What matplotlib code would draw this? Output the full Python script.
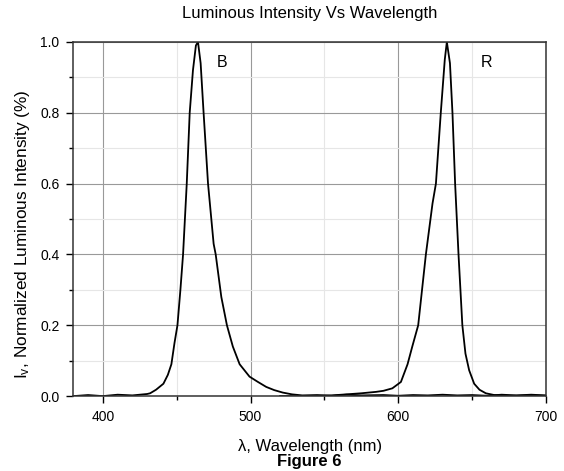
import matplotlib.pyplot as plt
from matplotlib.ticker import MultipleLocator

plt.rcParams['font.family'] = ['Liberation Sans', 'DejaVu Sans']
plt.rcParams['mathtext.default'] = 'regular'

# blue LED curve (wavelength nm, normalized intensity)
b_wl = [380, 390, 400, 410, 420, 425, 430, 432, 436, 441, 444, 446.4, 448.5, 450.5, 452.5,
        454.3, 456.8, 458.8, 461, 463, 464.4, 466.2, 468.2, 471.2, 475, 476.4, 480.2, 484,
        488, 492.6, 499.3, 505, 510.6, 516, 521.8, 528, 535, 545, 555, 565, 575, 590, 600,
        610, 620, 630, 640, 650, 660, 670, 680, 690, 700]
b_val = [0.0, 0.003, 0.0, 0.004, 0.002, 0.004, 0.006, 0.008, 0.018, 0.035, 0.06, 0.09, 0.15,
         0.20, 0.30, 0.40, 0.60, 0.80, 0.92, 0.99, 1.0, 0.94, 0.80, 0.60, 0.43, 0.40, 0.28,
         0.20, 0.14, 0.09, 0.055, 0.04, 0.026, 0.017, 0.01, 0.005, 0.002, 0.003, 0.001,
         0.004, 0.002, 0.003, 0.001, 0.003, 0.002, 0.004, 0.002, 0.003, 0.001, 0.004, 0.002,
         0.004, 0.002]

# red LED curve
r_wl = [520, 540, 555, 565, 575, 585, 590, 596, 601.8, 606.3, 609.5, 613.5, 618.7, 623.2,
        625.5, 628.8, 631.5, 632.9, 635, 636.7, 638.5, 640.8, 643.4, 645.5, 648, 651.4, 655,
        659.3, 665, 675, 690, 700]
r_val = [0.0, 0.0, 0.002, 0.005, 0.008, 0.012, 0.015, 0.022, 0.04, 0.09, 0.14, 0.20, 0.40,
         0.544, 0.60, 0.80, 0.95, 1.0, 0.94, 0.80, 0.60, 0.40, 0.20, 0.12, 0.073, 0.035,
         0.018, 0.008, 0.003, 0.001, 0.002, 0.001]

fig = plt.figure(figsize=(5.64, 4.71), dpi=100)
ax = fig.add_axes([0.130, 0.159, 0.838, 0.752])

ax.plot(b_wl, b_val, color='black', lw=1.3)
ax.plot(r_wl, r_val, color='black', lw=1.3)

ax.set_xlim(380, 700)
ax.set_ylim(0, 1.0)
ax.xaxis.set_major_locator(MultipleLocator(100))
ax.xaxis.set_minor_locator(MultipleLocator(50))
ax.yaxis.set_major_locator(MultipleLocator(0.2))
ax.yaxis.set_minor_locator(MultipleLocator(0.1))
ax.yaxis.set_major_formatter(plt.FormatStrFormatter('%.1f'))

ax.grid(True, which='major', color='#999999', lw=0.8)
ax.grid(True, which='minor', color='#e6e6e6', lw=0.8)
ax.set_axisbelow(True)

ax.tick_params(which='major', direction='out', length=5, width=1, labelsize=10, pad=5)
ax.tick_params(which='minor', direction='out', length=3, width=1)
for s in ax.spines.values():
    s.set_linewidth(1.1)
    s.set_color('#333333')

ax.text(481, 0.943, 'B', fontsize=11.5, ha='center', va='center')
ax.text(660, 0.943, 'R', fontsize=11.5, ha='center', va='center')

ax.set_title('Luminous Intensity Vs Wavelength', fontsize=12, pad=17)
ax.set_ylabel(r'I$_v$, Normalized Luminous Intensity (%)', fontsize=12.4)
ax.yaxis.set_label_coords(-0.088, 0.458)
ax.set_xlabel('λ, Wavelength (nm)', fontsize=12, labelpad=11)
fig.text(0.549, 0.004, 'Figure 6', fontsize=12, fontweight='bold', ha='center', va='bottom')

plt.savefig('out.png', dpi=100)
